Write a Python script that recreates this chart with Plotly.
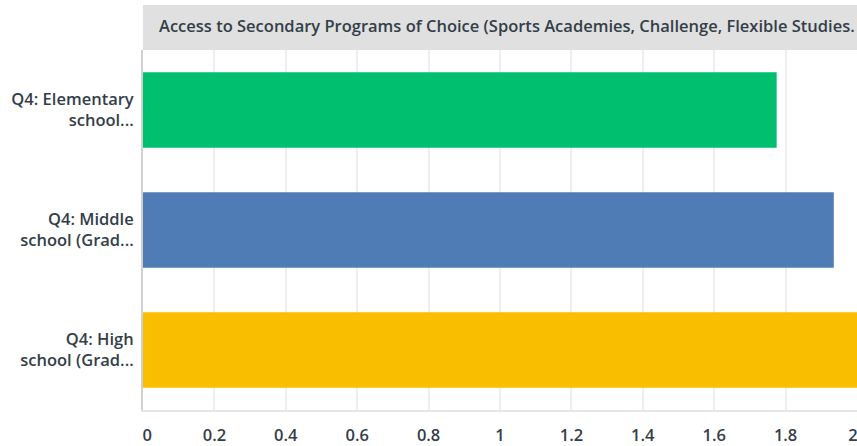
import plotly.graph_objects as go

categories = ["Q4: Elementary<br>school...", "Q4: Middle<br>school (Grad...", "Q4: High<br>school (Grad..."]
values = [1.775, 1.935, 2.0]
colors = ["#00BF6F", "#507CB6", "#F9BE00"]
tick_vals = [0, 0.2, 0.4, 0.6, 0.8, 1, 1.2, 1.4, 1.6, 1.8, 2]
tick_text = ["\u20020", "0.2", "0.4", "0.6", "0.8", "1", "1.2", "1.4", "1.6", "1.8", "2\u2002"]
title = "Access to Secondary Programs of Choice (Sports Academies, Challenge, Flexible Studies."

txt = "#333E48"
fnt = "Open Sans"
fs = 16.5

fig = go.Figure(go.Bar(
    x=values, y=categories, orientation="h",
    marker=dict(color=colors, line=dict(width=0)),
    hoverinfo="x+y",
))

fig.update_layout(
    width=857, height=446,
    margin=dict(l=143, r=0, t=50, b=36, autoexpand=False),
    paper_bgcolor="white", plot_bgcolor="white",
    bargap=0.372,
    showlegend=False,
    font=dict(family=fnt, size=fs, color=txt),
    xaxis=dict(
        range=[0, 2.0], tickvals=tick_vals, ticktext=tick_text,
        automargin=False,
        showgrid=True, gridcolor="#EEEEEE", gridwidth=2,
        zeroline=False, showline=True, linecolor="#E6E6E6", linewidth=2,
        ticks="", ticklabelstandoff=9, ticklabeloverflow="allow",
        tickfont=dict(family=fnt, size=fs, color=txt, weight=600),
        fixedrange=True,
    ),
    yaxis=dict(
        autorange="reversed", automargin=False,
        showgrid=False, zeroline=False,
        showline=True, linecolor="#D0D0D0", linewidth=2,
        ticks="", ticklabelstandoff=4,
        tickfont=dict(family=fnt, size=fs, color=txt, weight=600),
        fixedrange=True,
    ),
    shapes=[dict(
        type="rect", xref="paper", yref="paper",
        x0=0, x1=1, y0=1.0, y1=1 + 45 / 360,
        fillcolor="#E0E0E0", line=dict(width=0), layer="above",
    )],
    annotations=[dict(
        text=title, xref="paper", yref="paper",
        x=14 / 714, y=1 + 25 / 360, xanchor="left", yanchor="middle",
        showarrow=False,
        font=dict(family=fnt, size=fs, color=txt, weight=600),
    )],
)

fig.write_html("out.html", config={"displayModeBar": False},
               post_script="document.body.style.margin='0';")
